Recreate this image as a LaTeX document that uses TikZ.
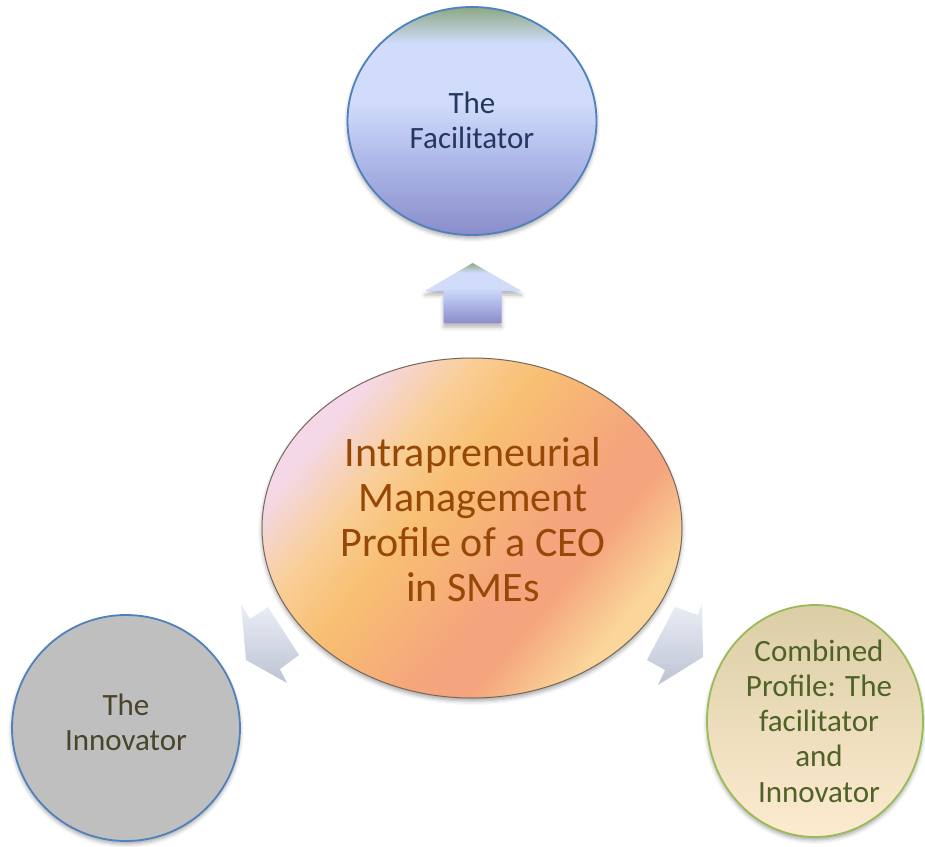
\documentclass[tikz,border=0pt]{standalone}
\usepackage{fontspec}
\setmainfont{Carlito}
\usetikzlibrary{shapes.geometric,shadows.blur}

\definecolor{facTop}{RGB}{140,168,132}
\definecolor{facMid}{RGB}{209,220,250}
\definecolor{facLow}{RGB}{176,186,234}
\definecolor{facBot}{RGB}{138,141,202}
\definecolor{facLine}{RGB}{79,129,189}
\definecolor{facInk}{RGB}{36,56,94}
\definecolor{ceoPink}{RGB}{244,216,232}
\definecolor{ceoPeach}{RGB}{249,206,150}
\definecolor{ceoOrange}{RGB}{248,191,114}
\definecolor{ceoSalmon}{RGB}{245,165,125}
\definecolor{ceoLight}{RGB}{250,214,154}
\definecolor{ceoLine}{RGB}{120,104,90}
\definecolor{ceoInk}{RGB}{152,72,6}
\definecolor{innFill}{RGB}{191,191,191}
\definecolor{innInk}{RGB}{74,68,42}
\definecolor{comTop}{RGB}{219,206,166}
\definecolor{comBot}{RGB}{253,235,208}
\definecolor{comLine}{RGB}{155,187,89}
\definecolor{comInk}{RGB}{79,98,40}
\definecolor{sideTop}{RGB}{234,238,248}
\definecolor{sideBot}{RGB}{190,195,210}

\pgfdeclareverticalshading{facshade}{100bp}{color(0bp)=(facBot); color(25bp)=(facBot);
   color(42bp)=(facLow); color(54bp)=(facMid); color(67bp)=(facMid);
   color(75bp)=(facTop); color(100bp)=(facTop)}
\pgfdeclarehorizontalshading{ceoshade}{100bp}{color(0bp)=(ceoPink); color(27bp)=(ceoPink);
   color(36bp)=(ceoPeach); color(44bp)=(ceoOrange); color(58bp)=(ceoSalmon);
   color(64bp)=(ceoSalmon); color(73bp)=(ceoLight); color(100bp)=(ceoLight)}

\tikzset{
   bubble/.style={ellipse, inner sep=0pt, line width=1.8pt,
      blur shadow={shadow xshift=0pt, shadow yshift=-3pt, shadow blur radius=4pt, shadow opacity=35}},
   facbubble/.style={bubble, draw=facLine, shading=facshade, minimum width=249pt, minimum height=228pt},
   ceobubble/.style={bubble, draw=ceoLine, line width=1pt, shading=ceoshade, shading angle=-40,
      minimum width=420pt, minimum height=340pt},
   innbubble/.style={bubble, draw=facLine, fill=innFill, minimum width=228pt, minimum height=226pt},
   combubble/.style={bubble, draw=comLine, top color=comTop, bottom color=comBot,
      minimum width=216pt, minimum height=232pt},
   bubbletext/.style={inner sep=0pt, align=center, font=\fontsize{31}{35.2}\selectfont},
   factext/.style={bubbletext, text=facInk},
   ceotext/.style={bubbletext, text=ceoInk, font=\fontsize{42}{45}\selectfont},
   inntext/.style={bubbletext, text=innInk},
   comtext/.style={bubbletext, text=comInk},
   uparrow/.style={shading=facshade,
      blur shadow={shadow xshift=0pt, shadow yshift=-4pt, shadow blur radius=4pt, shadow opacity=30}},
   sidearrow/.style={top color=sideTop, bottom color=sideBot}
}

\begin{document}
\begin{tikzpicture}[x=1pt, y=-1pt]
      \useasboundingbox (0,0) rectangle (925,846);
      \def \Profiles {
         fac/472/121/facbubble,
         ceo/472/528/ceobubble,
         inn/126/728/innbubble,
         com/815/721/combubble}
      \def \Labels {
         fac/472/120/factext/{The\\Facilitator},
         ceo/473/520/ceotext/{Intrapreneurial\\Management\\Profile of a CEO\\in SMEs},
         inn/126/722/inntext/{The\\Innovator},
         com/819/721/comtext/{Combined\\Profile: The\\facilitator\\and\\Innovator}}
      % block arrows out of the centre
      \path[uparrow] (472.7,263) -- (521.5,291) -- (501.5,291) -- (501.5,323)
         -- (443.5,323) -- (443.5,291) -- (425,291) -- cycle;
      \path[sidearrow] (241,604) -- (250,619) -- (268,607) -- (299,655)
         -- (280,669) -- (287,683) -- (246,660) -- cycle;
      \path[sidearrow] (675,607) -- (698,615) -- (702,603) -- (703,657)
         -- (658,685) -- (665,670) -- (647,660) -- cycle;
      \foreach \u / \x / \y / \s in \Profiles {
         \node[\s] (\u) at (\x, \y) {};
      }
      \foreach \u / \x / \y / \s / \t in \Labels {
         \node[\s] (\u-text) at (\x, \y) {\t};
      }
   \end{tikzpicture}
\end{document}
